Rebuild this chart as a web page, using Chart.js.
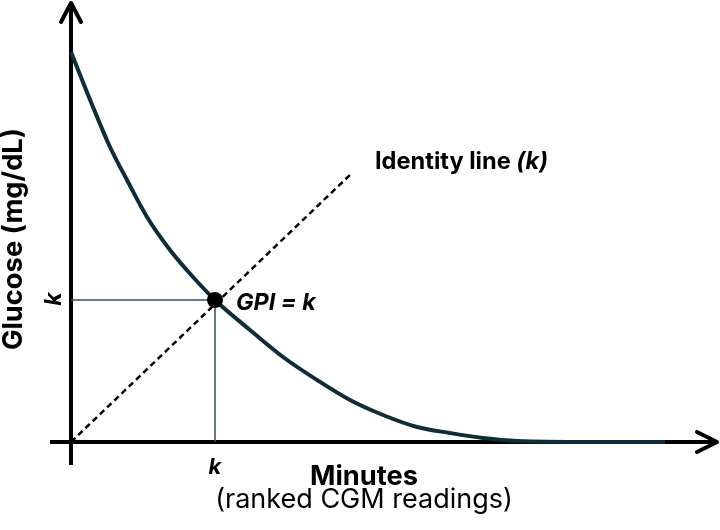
<!DOCTYPE html>
<html lang="en">
<head>
  <meta charset="UTF-8" />
  <title>GPI diagram</title>
  <script src="https://cdn.jsdelivr.net/npm/chart.js"></script>
  <style>
    html, body {
      margin: 0;
      padding: 0;
      background-color: white;
    }
    canvas { display: block; }
  </style>
</head>
<body>
  <canvas id="gpiChart" width="720" height="530"></canvas>

  <script>
    // ranked glucose curve (arbitrary units)
    const minutes = [0, 22, 39, 56, 76, 99, 122, 144, 179, 212, 246, 279, 312, 346, 379, 412, 446, 520, 594];
    const glucose = [390, 335, 295, 262, 225, 192, 165, 142, 112, 85, 62, 42, 27, 15, 9, 4, 1, 0, 0];

    // GPI point where the curve crosses the identity line
    const kMinutes = 144;
    const kGlucose = 142;

    // identity line ends
    const identityX = [0, 281];
    const identityY = [0, 269];

    // axes with arrow heads
    const yAxisX = [0, 0];
    const yAxisY = [-23, 437];
    const xAxisX = [-21, 644];
    const xAxisY = [0, 0];
    const upArrowX = [-10, 0, 10];
    const upArrowY = [420, 439, 420];
    const rightArrowX = [626, 646, 626];
    const rightArrowY = [10, 0, -10];

    const pts = (xs, ys) => xs.map((v, i) => ({ x: v, y: ys[i] }));

    const FAMILY = "Inter, 'Open Sans', sans-serif";

    // pick a font size so the text spans the wanted width
    function fitFont(ctx, text, style, width) {
      ctx.font = `${style} 100px ${FAMILY}`;
      const size = 100 * width / ctx.measureText(text).width;
      return `${style} ${size.toFixed(1)}px ${FAMILY}`;
    }

    const labelsPlugin = {
      id: 'labels',
      afterDatasetsDraw(chart) {
        const { ctx, scales: { x, y } } = chart;
        ctx.save();
        ctx.fillStyle = '#000';
        ctx.textBaseline = 'alphabetic';

        // y axis title
        ctx.save();
        ctx.translate(22, 239);
        ctx.rotate(-Math.PI / 2);
        ctx.textAlign = 'center';
        ctx.font = fitFont(ctx, 'Glucose (mg/dL)', 'bold', 222);
        ctx.fillText('Glucose (mg/dL)', 0, 0);
        ctx.restore();

        // k on the y axis
        ctx.save();
        ctx.translate(61, y.getPixelForValue(kGlucose) - 1);
        ctx.rotate(-Math.PI / 2);
        ctx.textAlign = 'center';
        ctx.font = `italic bold 23px ${FAMILY}`;
        ctx.fillText('k', 0, 0);
        ctx.restore();

        // k on the x axis
        ctx.textAlign = 'center';
        ctx.font = `italic bold 22px ${FAMILY}`;
        ctx.fillText('k', x.getPixelForValue(kMinutes), 474);

        // x axis title
        ctx.font = fitFont(ctx, 'Minutes', 'bold', 108);
        ctx.fillText('Minutes', 364, 485);
        ctx.font = fitFont(ctx, '(ranked CGM readings)', 'normal', 298);
        ctx.fillText('(ranked CGM readings)', 364, 508);

        // identity line label
        ctx.textAlign = 'left';
        ctx.font = `bold 21px ${FAMILY}`;
        const a = 'Identity line ';
        const wa = ctx.measureText(a).width;
        ctx.font = `italic bold 21px ${FAMILY}`;
        const wb = ctx.measureText('(k)').width;
        const s = 173 / (wa + wb);
        ctx.font = `bold ${(21 * s).toFixed(1)}px ${FAMILY}`;
        ctx.fillText(a, 375, 169);
        ctx.font = `italic bold ${(21 * s).toFixed(1)}px ${FAMILY}`;
        ctx.fillText('(k)', 375 + wa * s, 169);

        // GPI label
        ctx.font = fitFont(ctx, 'GPI = k', 'italic bold', 80);
        ctx.fillText('GPI = k', 236, 310);

        ctx.restore();
      }
    };

    new Chart('gpiChart', {
      type: 'scatter',
      data: {
        datasets: [
          {
            data: [{ x: kMinutes, y: kGlucose }],
            pointRadius: 8,
            pointBackgroundColor: '#000',
            pointBorderWidth: 0,
            showLine: false,
            order: 0
          },
          {
            data: pts(minutes, glucose),
            showLine: true,
            borderColor: '#0f2d38',
            borderWidth: 4,
            cubicInterpolationMode: 'monotone',
            pointRadius: 0,
            order: 1
          },
          {
            data: pts(identityX, identityY),
            showLine: true,
            borderColor: '#000',
            borderWidth: 2.5,
            borderDash: [6, 4],
            pointRadius: 0,
            order: 2
          },
          {
            data: pts([0, kMinutes, kMinutes], [kGlucose, kGlucose, 0]),
            showLine: true,
            borderColor: '#35535e',
            borderWidth: 1.5,
            pointRadius: 0,
            order: 3
          },
          {
            data: pts(yAxisX, yAxisY),
            showLine: true,
            borderColor: '#000',
            borderWidth: 4,
            pointRadius: 0,
            order: 4
          },
          {
            data: pts(xAxisX, xAxisY),
            showLine: true,
            borderColor: '#000',
            borderWidth: 4,
            pointRadius: 0,
            order: 4
          },
          {
            data: pts(upArrowX, upArrowY),
            showLine: true,
            borderColor: '#000',
            borderWidth: 4,
            borderJoinStyle: 'round',
            borderCapStyle: 'round',
            pointRadius: 0,
            order: 4
          },
          {
            data: pts(rightArrowX, rightArrowY),
            showLine: true,
            borderColor: '#000',
            borderWidth: 4,
            borderJoinStyle: 'round',
            borderCapStyle: 'round',
            pointRadius: 0,
            order: 4
          }
        ]
      },
      options: {
        responsive: false,
        animation: false,
        layout: { padding: 0, autoPadding: false },
        plugins: {
          legend: { display: false },
          tooltip: { enabled: false }
        },
        scales: {
          x: { type: 'linear', min: -71, max: 649, display: false },
          y: { type: 'linear', min: -88, max: 442, display: false }
        }
      },
      plugins: [labelsPlugin]
    });
  </script>
</body>
</html>
